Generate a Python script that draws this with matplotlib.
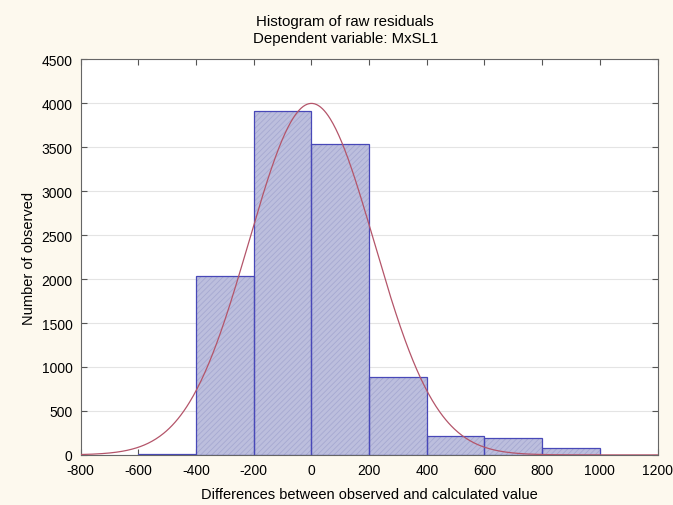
import matplotlib
matplotlib.use('Agg')
import matplotlib.pyplot as plt
import numpy as np

plt.rcParams['font.family'] = ['Liberation Sans', 'DejaVu Sans']
plt.rcParams['axes.unicode_minus'] = False
plt.rcParams['hatch.linewidth'] = 0.6

bin_edges = [-600, -400, -200, 0, 200, 400, 600, 800, 1000]
counts = [12, 2040, 3910, 3540, 890, 210, 195, 75]

# normal curve fitted to the residuals
mu = 0
sigma = 217

fig = plt.figure(figsize=(6.73, 5.06), dpi=100, facecolor='#fdf9ee')
ax = fig.add_axes([0.120, 0.099, 0.857, 0.782])

lefts = bin_edges[:-1]
widths = np.diff(bin_edges)
# light fill with a faint fine hatch on top, then the blue outlines
ax.bar(lefts, counts, width=widths, align='edge', color='#bcbedd',
       edgecolor='#a6a9d1', linewidth=0, hatch='//////', zorder=2)
ax.bar(lefts, counts, width=widths, align='edge', fill=False,
       edgecolor='#4848b8', linewidth=0.9, zorder=2)

n_total = sum(counts)
xs = np.linspace(-800, 1200, 600)
ys = n_total * 200 / (sigma * np.sqrt(2 * np.pi)) * np.exp(-(xs - mu) ** 2 / (2 * sigma ** 2))
ax.plot(xs, ys, color='#b4556a', linewidth=0.9, zorder=3)

ax.set_xlim(-800, 1200)
ax.set_ylim(0, 4500)
ax.set_xticks(np.arange(-800, 1201, 200))
ax.set_yticks(np.arange(0, 4501, 500))
ax.yaxis.grid(True, color='#e4e4e4', linewidth=0.8, zorder=0)
ax.set_axisbelow(True)
ax.tick_params(direction='in', top=True, right=True, labelsize=10, length=4,
               color='#555555', pad=6)
for s in ax.spines.values():
    s.set_color('#666666')
    s.set_linewidth(0.8)

fig.text(0.513, 0.940, 'Histogram of raw residuals\nDependent variable: MxSL1',
         fontsize=10.8, linespacing=1.25, ha='center', va='center')
ax.set_xlabel('Differences between observed and calculated value', fontsize=10.5, labelpad=7)
ax.set_ylabel('Number of observed', fontsize=10.5, labelpad=4)

fig.savefig('out.png', dpi=100, facecolor=fig.get_facecolor())
